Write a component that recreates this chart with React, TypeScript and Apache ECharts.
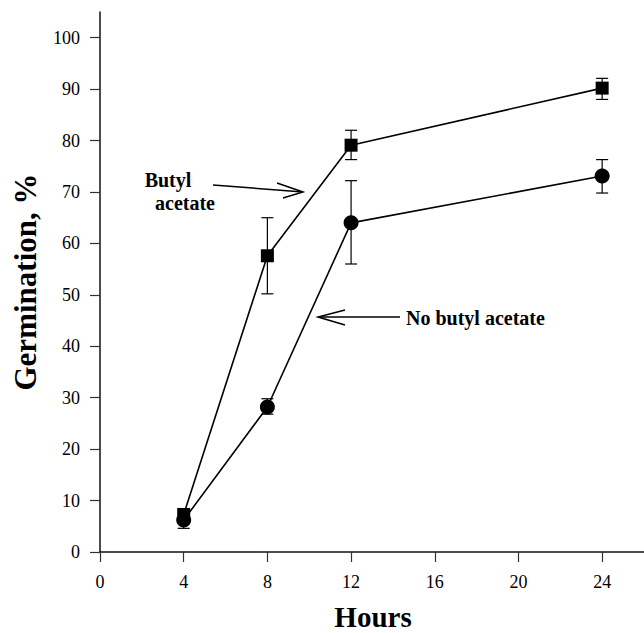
import React, { useEffect, useRef } from "react";
import * as echarts from "echarts";

const hours = [4, 8, 12, 24];
const butylMean = [7.3, 57.6, 79.1, 90.2];
const butylLow = [6.2, 50.2, 76.3, 88.0];
const butylHigh = [8.4, 65.0, 82.0, 92.1];
const noButylMean = [6.2, 28.2, 64.0, 73.1];
const noButylLow = [4.6, 26.8, 56.0, 69.8];
const noButylHigh = [7.6, 29.8, 72.2, 76.3];
const xTicks = [0, 4, 8, 12, 16, 20, 24];
const yTicks = [0, 10, 20, 30, 40, 50, 60, 70, 80, 90, 100];

const FONT = "Liberation Serif";

function errorRender(params: any, api: any) {
  const x = api.value(0);
  const lo = api.value(1);
  const hi = api.value(2);
  const pLo = api.coord([x, lo]);
  const pHi = api.coord([x, hi]);
  const hw = 6;
  const st = { stroke: "#000", lineWidth: 1.2 };
  return {
    type: "group",
    children: [
      { type: "line", shape: { x1: pLo[0], y1: pLo[1], x2: pHi[0], y2: pHi[1] }, style: st },
      { type: "line", shape: { x1: pLo[0] - hw, y1: pLo[1], x2: pLo[0] + hw, y2: pLo[1] }, style: st },
      { type: "line", shape: { x1: pHi[0] - hw, y1: pHi[1], x2: pHi[0] + hw, y2: pHi[1] }, style: st },
    ],
  };
}

export default function App() {
  const ref = useRef<HTMLDivElement>(null);
  useEffect(() => {
    document.body.style.margin = "0";
    const chart = echarts.init(ref.current!, null, { renderer: "svg" });
    const axisLineStyle = { color: "#111", width: 1.5 };
    const labelStyle = { fontSize: 18, color: "#000", fontFamily: FONT };
    chart.setOption({
      animation: false,
      backgroundColor: "#fff",
      textStyle: { fontFamily: FONT, fontSize: 18, color: "#000" },
      grid: { left: 100, top: 12, width: 546, height: 540 },
      xAxis: {
        type: "value",
        min: 0,
        max: 26,
        interval: 4,
        axisLine: { show: true, lineStyle: axisLineStyle },
        axisTick: { show: true, length: 10, customValues: xTicks, lineStyle: { color: "#333", width: 1.2 } },
        axisLabel: {
          margin: 21,
          showMaxLabel: false,
          formatter: (v: number) => (xTicks.indexOf(v) >= 0 ? String(v) : ""),
          ...labelStyle,
        },
        splitLine: { show: false },
      },
      yAxis: {
        type: "value",
        min: 0,
        max: 105,
        interval: 10,
        axisLine: { show: true, lineStyle: axisLineStyle },
        axisTick: { show: true, length: 10, customValues: yTicks, lineStyle: { color: "#333", width: 1.2 } },
        axisLabel: {
          margin: 20,
          showMaxLabel: false,
          formatter: (v: number) => (yTicks.indexOf(v) >= 0 ? String(v) : ""),
          ...labelStyle,
        },
        splitLine: { show: false },
      },
      series: [
        {
          type: "custom",
          z: 1,
          renderItem: errorRender,
          encode: { x: 0, y: [1, 2] },
          data: hours.map((h, i) => [h, butylLow[i], butylHigh[i]]),
        },
        {
          type: "custom",
          z: 1,
          renderItem: errorRender,
          encode: { x: 0, y: [1, 2] },
          data: hours.map((h, i) => [h, noButylLow[i], noButylHigh[i]]),
        },
        {
          name: "Butyl acetate",
          type: "line",
          z: 3,
          data: hours.map((h, i) => [h, butylMean[i]]),
          symbol: "rect",
          symbolSize: 13,
          itemStyle: { color: "#000" },
          lineStyle: { color: "#000", width: 1.6 },
        },
        {
          name: "No butyl acetate",
          type: "line",
          z: 3,
          data: hours.map((h, i) => [h, noButylMean[i]]),
          symbol: "circle",
          symbolSize: 15,
          itemStyle: { color: "#000" },
          lineStyle: { color: "#000", width: 1.6 },
        },
      ],
      graphic: [
        {
          type: "text",
          x: 25,
          y: 282,
          rotation: Math.PI / 2,
          style: {
            text: "Germination, %",
            font: `bold 31px "${FONT}", serif`,
            fill: "#000",
            align: "center",
            verticalAlign: "middle",
          },
        },
        {
          type: "text",
          x: 373,
          y: 617,
          style: {
            text: "Hours",
            font: `bold 29px "${FONT}", serif`,
            fill: "#000",
            align: "center",
            verticalAlign: "middle",
          },
        },
        {
          type: "text",
          x: 168,
          y: 180,
          style: { text: "Butyl", font: `bold 20px "${FONT}", serif`, fill: "#000", align: "center", verticalAlign: "middle" },
        },
        {
          type: "text",
          x: 185,
          y: 203,
          style: { text: "acetate", font: `bold 20px "${FONT}", serif`, fill: "#000", align: "center", verticalAlign: "middle" },
        },
        {
          type: "line",
          shape: { x1: 213, y1: 185, x2: 303, y2: 192 },
          style: { stroke: "#000", lineWidth: 1.5 },
        },
        {
          type: "polyline",
          shape: { points: [[277, 183], [303, 192], [283, 198]] },
          style: { stroke: "#000", lineWidth: 1.5, fill: null },
        },
        {
          type: "text",
          x: 406,
          y: 318,
          style: { text: "No butyl acetate", font: `bold 20px "${FONT}", serif`, fill: "#000", align: "left", verticalAlign: "middle" },
        },
        {
          type: "line",
          shape: { x1: 400, y1: 317, x2: 318, y2: 317 },
          style: { stroke: "#000", lineWidth: 1.5 },
        },
        {
          type: "polyline",
          shape: { points: [[345, 310], [318, 317], [345, 325]] },
          style: { stroke: "#000", lineWidth: 1.5, fill: null },
        },
      ],
    });
    return () => chart.dispose();
  }, []);
  return <div ref={ref} style={{ width: 644, height: 633 }} />;
}
